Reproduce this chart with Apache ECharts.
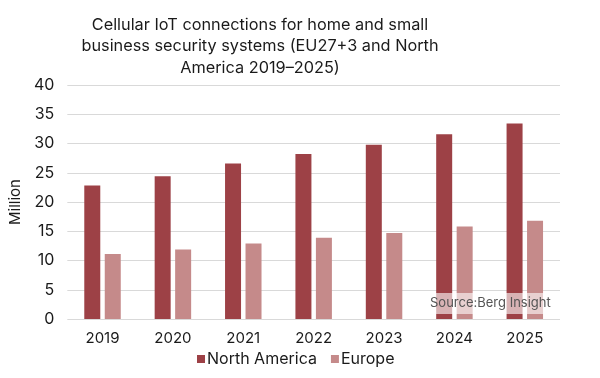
<!DOCTYPE html>
<html><head><meta charset="utf-8">
<script src="https://cdn.jsdelivr.net/npm/echarts@6/dist/echarts.min.js"></script>
<style>html,body{margin:0;padding:0;background:#fff}#c{width:600px;height:378px}</style>
</head><body><div id="c"></div>
<script>
const categories = ['2019','2020','2021','2022','2023','2024','2025'];
const northAmerica = [22.8, 24.4, 26.6, 28.2, 29.8, 31.6, 33.4];
const europe = [11.1, 11.9, 12.9, 13.9, 14.7, 15.8, 16.8];
const yTicks = {min: 0, max: 40, interval: 5};

const FONT = 'Inter, "Liberation Sans", sans-serif';
const chart = echarts.init(document.getElementById('c'), null, {renderer: 'canvas'});
chart.setOption({
  animation: false,
  backgroundColor: '#fff',
  title: {
    text: 'Cellular IoT connections for home and small\nbusiness security systems (EU27+3 and North\nAmerica 2019\u20132025)',
    left: 255, top: 9, textAlign: 'center',
    textStyle: {fontFamily: FONT, fontSize: 16.3, fontWeight: 'normal', color: '#1a1a1a', lineHeight: 21.5}
  },
  grid: {left: 63, right: 40, top: 85, bottom: 59, containLabel: false},
  legend: {
    data: ['North America', 'Europe'], bottom: 6, left: 192,
    icon: 'rect', itemWidth: 8, itemHeight: 8, itemGap: 14,
    textStyle: {fontFamily: FONT, fontSize: 16, color: '#1a1a1a', padding: [0,0,0,-3]}
  },
  xAxis: {
    type: 'category', data: categories,
    axisLine: {show: false}, axisTick: {show: false},
    axisLabel: {fontFamily: FONT, fontSize: 15, color: '#1a1a1a', margin: 12}
  },
  yAxis: {
    type: 'value', min: yTicks.min, max: yTicks.max, interval: yTicks.interval,
    name: 'Million', nameLocation: 'middle', nameGap: 40, nameRotate: 90,
    nameTextStyle: {fontFamily: FONT, fontSize: 15, color: '#1a1a1a'},
    axisLabel: {fontFamily: FONT, fontSize: 16, color: '#1a1a1a', margin: 13},
    splitLine: {lineStyle: {color: '#d9d9d9', width: 1}},
    axisLine: {show: false}, axisTick: {show: false}
  },
  series: [
    {name: 'North America', type: 'bar', data: northAmerica, barWidth: 16, barGap: '28%',
     itemStyle: {color: '#9d4146'}},
    {name: 'Europe', type: 'bar', data: europe, barWidth: 16,
     itemStyle: {color: '#c58a8a'}}
  ],
  graphic: [{
    type: 'text', left: 427, top: 293, z: 100,
    style: {text: 'Source:Berg Insight', fontFamily: FONT, fontSize: 13, fill: '#555',
      backgroundColor: 'rgba(255,255,255,0.6)', padding: [4, 3, 4, 3]}
  }]
});
</script></body></html>
